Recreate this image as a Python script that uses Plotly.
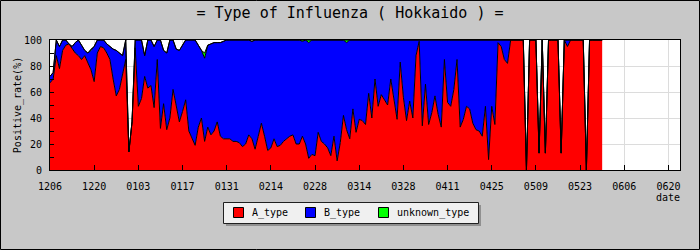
import pandas as pd
import plotly.graph_objects as go

start_date = "2010-12-06"
last_tick = "2011-06-20"
axis_end = "2011-06-23 16:00"

# A_type positive rate (%) per day, from 12/06
a_type = [67, 70, 88, 78, 92, 96, 97, 93, 90, 88, 85, 88, 82, 77, 68, 90, 95, 94, 90, 85,
          70, 57, 62, 75, 85, 14, 37, 94, 49, 55, 72, 63, 65, 48, 85, 32, 51, 31, 40, 62,
          50, 37, 45, 54, 30, 25, 19, 33, 40, 22, 33, 27, 30, 37, 26, 24, 24, 24, 22, 22,
          21, 18, 20, 27, 24, 16, 26, 36, 26, 15, 17, 24, 18, 19, 22, 24, 26, 27, 20, 20,
          26, 20, 9, 12, 11, 29, 22, 20, 17, 11, 26, 7, 21, 42, 31, 24, 47, 29, 39, 38,
          35, 59, 40, 70, 49, 58, 54, 50, 70, 56, 39, 83, 56, 38, 53, 40, 88, 99, 34, 66,
          35, 44, 57, 43, 33, 85, 52, 49, 62, 85, 33, 39, 49, 47, 36, 31, 30, 26, 49, 8,
          49, 35, 98, 95, 85, 82, 100, 100, 100, 100, 100, 0, 100, 100, 100, 13, 100, 13, 100, 100,
          100, 100, 13, 100, 95, 100, 100, 100, 100, 100, 0, 100, 100, 100, 100, 100]

# days whose total positive rate (A + B + unknown) is below 100 % : {day index: total}
total_short = {0: 72, 1: 75, 3: 95, 6: 97, 7: 95, 8: 98, 10: 96, 11: 92, 12: 90, 13: 93,
               14: 95, 18: 97, 19: 95, 20: 93, 21: 92, 22: 90, 23: 88, 25: 14, 26: 37,
               30: 88, 33: 95, 36: 92, 37: 90, 40: 93, 41: 92, 42: 96, 47: 96, 48: 92,
               49: 90, 50: 96, 51: 97, 52: 98, 53: 98, 54: 98, 55: 99, 64: 99,
               151: 0, 155: 13, 157: 13, 162: 13, 170: 0}

# unknown_type (%) : {day index: value}
unknown_days = {13: 1, 49: 4, 80: 1, 82: 2, 94: 2}

n = len(a_type)
unknown = [unknown_days.get(i, 0) for i in range(n)]
total = [total_short.get(i, 100) for i in range(n)]
b_type = [t - a - u for t, a, u in zip(total, a_type, unknown)]
dates = pd.date_range(start_date, periods=n, freq="D")
tick_dates = pd.date_range(start_date, last_tick, freq="14D")

MONO = "DejaVu Sans Mono"
W, H = 700, 250
ML, MR, MT, MB = 50, 20, 40, 80
PW, PH = W - ML - MR, H - MT - MB


def px_x(p):
    return (p - ML) / PW


def px_y(p):
    return (H - MB - p) / PH


series = [("A_type", a_type, "#ff0000"),
          ("B_type", b_type, "#0000ff"),
          ("unknown_type", unknown, "#00ff00")]

fig = go.Figure()
for name, vals, col in series:
    fig.add_trace(go.Scatter(x=dates, y=vals, name=name, stackgroup="one",
                             mode="lines", line=dict(color="black", width=1),
                             fillcolor=col, showlegend=False))

# legend drawn as a framed box like the original
shapes = [
    dict(type="rect", xref="paper", yref="paper", x0=px_x(226), x1=px_x(481),
         y0=px_y(205), y1=px_y(226), fillcolor="#909090", line=dict(width=0), layer="above"),
    dict(type="rect", xref="paper", yref="paper", x0=px_x(223.5), x1=px_x(478.5),
         y0=px_y(202.5), y1=px_y(223.5), fillcolor="#f0f0f0",
         line=dict(color="#202020", width=1), layer="above"),
    dict(type="rect", xref="paper", yref="paper", x0=px_x(0.5), x1=px_x(699.5),
         y0=px_y(0.5), y1=px_y(249.5), line=dict(color="black", width=1), layer="above"),
]
annotations = [dict(text="date", xref="paper", yref="paper", x=px_x(668), y=px_y(197),
                    xanchor="center", yanchor="middle", showarrow=False,
                    font=dict(family=MONO, size=10))]
swatch_x = [233, 305, 378]
for (name, _, col), sx in zip(series, swatch_x):
    shapes.append(dict(type="rect", xref="paper", yref="paper",
                       x0=px_x(sx + 0.5), x1=px_x(sx + 10.5),
                       y0=px_y(207.5), y1=px_y(217.5), fillcolor=col,
                       line=dict(color="black", width=1), layer="above"))
    annotations.append(dict(text=name, xref="paper", yref="paper", x=px_x(sx + 17),
                            y=px_y(212.5), xanchor="left", yanchor="middle",
                            showarrow=False, font=dict(family=MONO, size=10)))

fig.update_layout(
    width=W, height=H,
    margin=dict(l=ML, r=MR, t=MT, b=MB, pad=0),
    paper_bgcolor="#c8c8c8", plot_bgcolor="white",
    font=dict(family=MONO, size=10, color="black"),
    title=dict(text="= Type of Influenza ( Hokkaido ) =", x=0.5, xanchor="center",
               y=1 - 13 / H, yanchor="middle", font=dict(family=MONO, size=15, color="black")),
    showlegend=False,
    xaxis=dict(type="date", range=[start_date, axis_end], tickvals=tick_dates,
               tickformat="%m%d", ticks="inside", ticklen=5, tickcolor="black",
               showline=True, linecolor="black", linewidth=1, mirror=True,
               showgrid=True, gridcolor="#dcdcdc", zeroline=False,
               ticklabelstandoff=7,
               tickfont=dict(family=MONO, size=10)),
    yaxis=dict(range=[0, 100], tickvals=[0, 20, 40, 60, 80, 100], ticks="inside", ticklen=4,
               tickcolor="black",
               minor=dict(dtick=10, ticks="inside", ticklen=4, tickcolor="black", showgrid=False),
               showline=True, linecolor="black", linewidth=1, mirror=True,
               showgrid=True, gridcolor="#dcdcdc", zeroline=False,
               ticklabelstandoff=5,
               title=dict(text="Positive_rate(%)", font=dict(family=MONO, size=10), standoff=0),
               tickfont=dict(family=MONO, size=10)),
    annotations=annotations,
    shapes=shapes,
)

fig.write_html("out.html")
